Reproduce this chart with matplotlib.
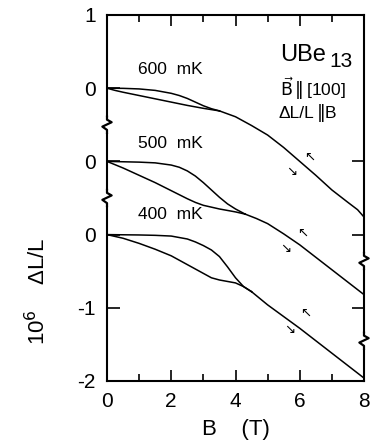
import matplotlib
matplotlib.use("Agg")
import matplotlib.pyplot as plt
from matplotlib.ticker import MultipleLocator, FixedLocator
import numpy as np

plt.rcParams['font.family'] = ['Liberation Sans', 'DejaVu Sans']
plt.rcParams['mathtext.fontset'] = 'dejavusans'

# ---- data (10^6 dL/L relative to each curve's zero) ----
temps = ['600 mK', '500 mK', '400 mK']
offsets = [2, 1, 0]

B600_up = [0, 0.5, 1, 1.5, 2, 2.25, 2.5, 2.75, 3, 3.25, 3.5]
d600_up = [0, -0.002, -0.01, -0.03, -0.07, -0.10, -0.14, -0.19, -0.24, -0.28, -0.31]
B600_dn = [0, 0.25, 0.5, 1, 1.5, 2, 2.5, 3, 3.5]
d600_dn = [0, -0.03, -0.055, -0.10, -0.145, -0.19, -0.235, -0.275, -0.31]
B600_c = [3.5, 4, 4.5, 5, 5.5, 6, 6.5, 7, 7.5, 7.8, 8]
d600_c = [-0.31, -0.39, -0.51, -0.64, -0.81, -1.0, -1.19, -1.39, -1.56, -1.66, -1.76]

B500_up = [0, 1, 1.5, 2, 2.25, 2.5, 2.75, 3, 3.25, 3.5, 3.75, 4, 4.3]
d500_up = [0, -0.01, -0.02, -0.05, -0.08, -0.13, -0.20, -0.29, -0.39, -0.49, -0.58, -0.65, -0.72]
B500_dn = [0, 0.5, 1, 1.5, 2, 2.5, 2.75, 3, 3.5, 4, 4.3]
d500_dn = [0, -0.09, -0.19, -0.29, -0.40, -0.51, -0.56, -0.60, -0.65, -0.69, -0.72]
B500_c = [4.3, 4.65, 5, 5.5, 6, 6.5, 7, 7.5, 8]
d500_c = [-0.72, -0.78, -0.85, -0.99, -1.14, -1.31, -1.48, -1.65, -1.82]

B400_up = [0, 1, 1.5, 2, 2.5, 2.75, 3, 3.25, 3.5, 3.75, 4, 4.25, 4.5]
d400_up = [0, -0.005, -0.01, -0.02, -0.06, -0.10, -0.15, -0.21, -0.30, -0.44, -0.59, -0.71, -0.78]
B400_dn = [0, 0.5, 1, 1.5, 2, 2.5, 2.75, 3, 3.25, 3.5, 3.75, 4, 4.25, 4.5]
d400_dn = [0, -0.05, -0.12, -0.20, -0.29, -0.41, -0.47, -0.53, -0.59, -0.62, -0.64, -0.66, -0.71, -0.78]
B400_c = [4.5, 5, 5.5, 6, 6.5, 7, 7.5, 8]
d400_c = [-0.78, -0.96, -1.12, -1.28, -1.45, -1.62, -1.79, -1.96]

curves = [
    [(B600_up, d600_up), (B600_dn, d600_dn), (B600_c, d600_c)],
    [(B500_up, d500_up), (B500_dn, d500_dn), (B500_c, d500_c)],
    [(B400_up, d400_up), (B400_dn, d400_dn), (B400_c, d400_c)],
]

# sweep-direction arrows (B, y) for each curve
arrow_up = [(6.32, 1.05), (6.1, 0.01), (6.17, -1.08)]
arrow_dn = [(5.76, 0.85), (5.55, -0.2), (5.7, -1.31)]

yticks = [3, 2, 1, 0, -1, -2]
yticklabels = ['1', '0', '0', '0', '-1', '-2']
xticks = [0, 2, 4, 6, 8]
right_ticks = [1, 0, -1]
left_breaks = [1.5, 0.5]
right_breaks = [-0.36, -1.45]

# ---- figure ----
fig = plt.figure(figsize=(3.70, 4.47), dpi=100)
ax = fig.add_axes([107/370, 1-381/447, 257/370, 366/447])

for off, group in zip(offsets, curves):
    for Bs, ds in group:
        ax.plot(Bs, [off + d for d in ds], color='black', lw=1.1,
                solid_joinstyle='round')

ax.set_xlim(0, 8)
ax.set_ylim(-2, 3)
ax.set_xticks(xticks)
ax.set_xticklabels([str(t) for t in xticks])
ax.xaxis.set_minor_locator(MultipleLocator(1))
ax.set_yticks(yticks)
ax.set_yticklabels(yticklabels)
ax.tick_params(axis='x', which='major', direction='in', length=8, width=1.2,
               top=True, labelsize=15, pad=8)
ax.tick_params(axis='x', which='minor', direction='in', length=5, width=1.2, top=True)
ax.tick_params(axis='y', which='major', direction='in', length=9, width=1.2,
               labelsize=15, pad=8)
for s in ax.spines.values():
    s.set_linewidth(1.5)

ax2 = ax.twinx()
ax2.set_ylim(-2, 3)
ax2.yaxis.set_major_locator(FixedLocator(right_ticks))
ax2.tick_params(axis='y', direction='in', length=9, width=1.2, labelright=False)
for s in ax2.spines.values():
    s.set_visible(False)

# axis breaks (zigzags)
tr = ax.get_yaxis_transform()
zx = np.array([0, 0, 0.018, -0.018, 0.0, 0])
zy = np.array([0.11, 0.07, 0.035, -0.025, -0.07, -0.11])
for xs, ybs in ((0, left_breaks), (1, right_breaks)):
    for yb in ybs:
        ax.plot([xs, xs], [yb - 0.08, yb + 0.08], color='white', lw=3,
                transform=tr, clip_on=False, zorder=5)
        ax.plot(xs + zx, yb + zy, color='black', lw=1.6, transform=tr,
                clip_on=False, zorder=6)

# temperature labels
label_pos = [(0.95, 2.25), (0.95, 1.25), (0.95, 0.27)]
for t, (xp, yp) in zip(temps, label_pos):
    ax.text(xp, yp, t.replace(' ', '  '), fontsize=12.5, va='center', ha='left')

for (bx, by) in arrow_up:
    ax.text(bx, by, '\u2196', fontsize=9.5, ha='center', va='center')
for (bx, by) in arrow_dn:
    ax.text(bx, by, '\u2198', fontsize=9.5, ha='center', va='center')

ax.text(5.39, 2.46, 'UBe', fontsize=17, va='center', ha='left')
ax.text(6.92, 2.36, '13', fontsize=15, va='center', ha='left')
ax.text(5.39, 1.99, r'$\vec{\mathsf{B}}\,\Vert\,$[100]', fontsize=12.5,
        va='center', ha='left')
ax.text(5.33, 1.66, '\u0394L/L', fontsize=12.5, va='center', ha='left')
ax.text(6.5, 1.66, r'$\Vert$B', fontsize=12.5, va='center', ha='left')

ax.set_xlabel('B    (T)', fontsize=16, labelpad=6)
fig.text(38/370, 1-291/447, '10$^6$    \u0394L/L', rotation=90, fontsize=16,
         ha='center', va='center')

fig.savefig('out.png', dpi=100)
